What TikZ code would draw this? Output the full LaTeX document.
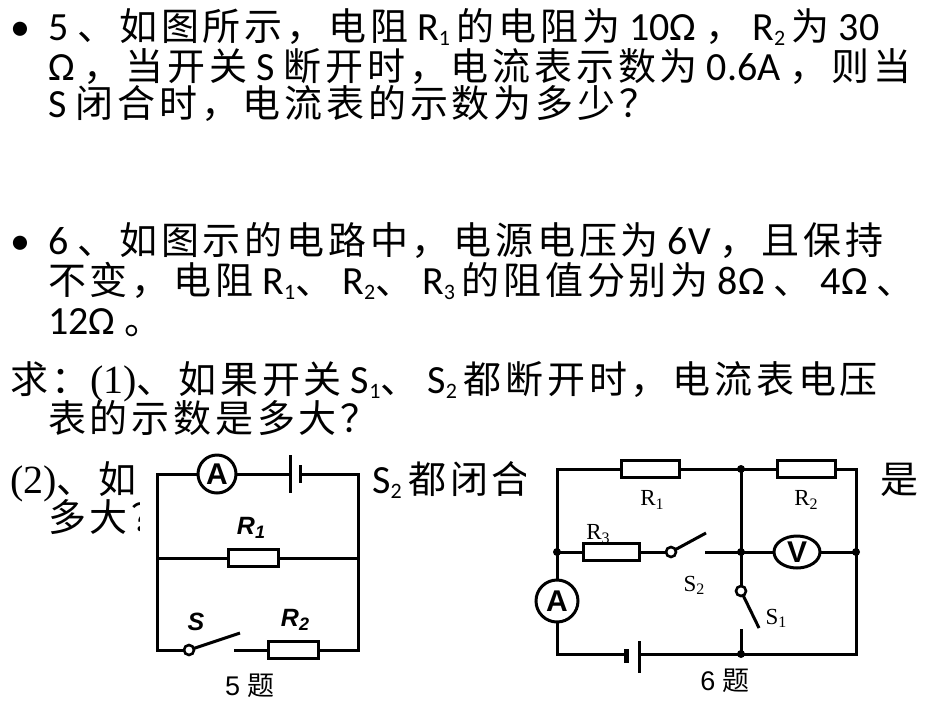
\documentclass[tikz,border=0pt]{standalone}
\usepackage{fontspec}
\usetikzlibrary{shapes.geometric}
\setmainfont{Carlito}
\newfontfamily\cjk{Noto Sans CJK SC}[LetterSpace=10]
\newfontfamily\serifz{Liberation Serif}
\newfontfamily\arial{Liberation Sans}
\newcommand{\C}[1]{{\cjk\fontsize{38}{38}\selectfont #1}}
\newcommand{\cm}{\C{，}}
\newcommand{\dn}{\C{、}}
\newcommand{\sbs}[1]{\raisebox{-0.3ex}{\fontsize{22}{22}\selectfont #1}}
\begin{document}
\begin{tikzpicture}[x=1pt,y=-1pt,
  txt/.style={anchor=base west,inner sep=0pt,font=\fontsize{40}{40}\selectfont},
  wire/.style={line width=3pt},
  res/.style={draw,line width=3pt,fill=white,minimum width=#1,minimum height=17pt,inner sep=0pt},
  res/.default=50pt,
  dot/.style={circle,fill,inner sep=0pt,minimum size=8pt},
  pivot/.style={circle,draw,line width=2.6pt,fill=white,inner sep=0pt,minimum size=10pt},
  meter/.style={circle,draw,line width=3pt,fill=white,inner sep=0pt,minimum size=38pt,font=\arial\bfseries\fontsize{30}{30}\selectfont},
  lab5/.style={font=\arial\bfseries\itshape\fontsize{25}{25}\selectfont,inner sep=0pt},
  lab6/.style={font=\serifz\fontsize{23}{23}\selectfont,inner sep=0pt},
  captxt/.style={font=\arial\fontsize{27}{27}\selectfont,inner sep=0pt}]
\useasboundingbox (0,0) rectangle (950,713);
\fill[white] (0,0) rectangle (950,713);
% text
\node[txt] (b1) at (10,40) {•};
\node[txt] (l1) at (48,40) {5 \dn\C{如图所示}\cm\C{电阻} R\sbs{1}\,\C{的电阻为} 10Ω \cm\ R\sbs{2}\,\C{为} 30};
\node[txt] (l2) at (48,80) {Ω \cm\C{当开关} S \C{断开时}\cm\C{电流表示数为} 0.6A \cm\C{则当}};
\node[txt] (l3) at (48,117) {S \C{闭合时}\cm\C{电流表的示数为多少？}};
\node[txt] (b2) at (10,254) {•};
\node[txt] (l4) at (48,254) {6 \dn\C{如图示的电路中}\cm\C{电源电压为} 6V \cm\C{且保持}};
\node[txt] (l5) at (48,294) {\C{不变}\cm\C{电阻} R\sbs{1}\dn\ R\sbs{2}\dn\ R\sbs{3}\,\C{的阻值分别为} 8Ω \dn\ 4Ω \dn};
\node[txt] (l6) at (48,334) {12Ω \C{。}};
\node[txt] (l7) at (10,393) {\C{求：}{\serifz(1)}\dn\C{如果开关} S\sbs{1}\dn\ S\sbs{2}\,\C{都断开时}\cm\C{电流表电压}};
\node[txt] (l8) at (48,432) {\C{表的示数是多大？}};
\node[txt] (l9) at (10,493) {{\serifz(2)}\dn\C{如果开关} S\sbs{1}\dn};
\node[txt] (l9a) at (372,493) {S\sbs{2}\,\C{都闭合时}\cm};
\node[txt] (l9b) at (880,493) {\C{是}};
\node[txt] (l10) at (48,531) {\C{多大？}};
% image covers
\fill[white] (140,455) rectangle (366,713);
\fill[white] (526,455) rectangle (866,713);
% circuit 5
\coordinate (a1) at (157,474); \coordinate (a2) at (358,474);
\coordinate (a3) at (157,558); \coordinate (a4) at (358,558);
\coordinate (a5) at (157,650); \coordinate (a6) at (358,650);
\draw[wire] (290,474) -- (a1) -- (a5) -- (189,650);
\draw[wire] (300,474) -- (a2) -- (a6) -- (234,650);
\draw[wire] (a3) -- (a4);
\draw[wire] (290,455) -- (290,493);
\draw[wire] (300,465) -- (300,483);
\node[meter] (A5) at (217,474) {A};
\node[res] (R51) at (253,558) {};
\node[res] (R52) at (293,650) {};
\draw[wire] (189,650) -- (240,633);
\node[pivot] (p5) at (189,650) {};
\node[lab5] (tR1) at (251,528) {R\raisebox{-0.35ex}{\fontsize{18}{18}\selectfont 1}};
\node[lab5] (tS) at (196,622) {S};
\node[lab5] (tR2) at (295,620) {R\raisebox{-0.35ex}{\fontsize{18}{18}\selectfont 2}};
\node[captxt] (c5) at (250,686) {5 {\cjk\fontsize{27}{27}\selectfont 题}};
% circuit 6
\coordinate (b1) at (557,469); \coordinate (b2) at (741,469); \coordinate (b3) at (856,469);
\coordinate (m1) at (557,552); \coordinate (m2) at (741,552); \coordinate (m3) at (856,552);
\coordinate (d1) at (557,654); \coordinate (d2) at (741,654); \coordinate (d3) at (856,654);
\draw[wire] (m1) -- (b1) -- (b3) -- (d3) -- (d2) -- (639,654);
\draw[wire] (626,654) -- (d1) -- (m1) -- (671,552);
\draw[wire] (705,552) -- (m3);
\draw[wire] (b2) -- (741,591);
\draw[wire] (741,629) -- (d2);
\draw[wire] (671,552) -- (706,533);
\draw[wire] (741,591) -- (759,628);
\draw[line width=3pt] (639,641) -- (639,673);
\draw[line width=5pt] (626,649) -- (626,663);
\node[res=58pt] (R61) at (650,469) {};
\node[res=58pt] (R62) at (806,469) {};
\node[res=56pt] (R63) at (611,552) {};
\node[meter,ellipse,minimum width=46pt,minimum height=32pt] (V) at (797,552) {V};
\node[meter,minimum size=42pt] (A6) at (557,601) {A};
\node[pivot] (p62) at (671,552) {};
\node[pivot] (p61) at (741,591) {};
\foreach \p in {m1,b2,m2,m3,d2} \node[dot] at (\p) {};
\node[lab6] (t61) at (652,500) {R\raisebox{-0.3ex}{\fontsize{16}{16}\selectfont 1}};
\node[lab6] (t62) at (806,500) {R\raisebox{-0.3ex}{\fontsize{16}{16}\selectfont 2}};
\node[lab6] (t63) at (598,534) {R\raisebox{-0.3ex}{\fontsize{16}{16}\selectfont 3}};
\node[lab6] (tS2) at (694,585) {S\raisebox{-0.3ex}{\fontsize{16}{16}\selectfont 2}};
\node[lab6] (tS1) at (776,618) {S\raisebox{-0.3ex}{\fontsize{16}{16}\selectfont 1}};
\node[captxt] (c6) at (725,681) {6 {\cjk\fontsize{27}{27}\selectfont 题}};
\end{tikzpicture}
\end{document}
